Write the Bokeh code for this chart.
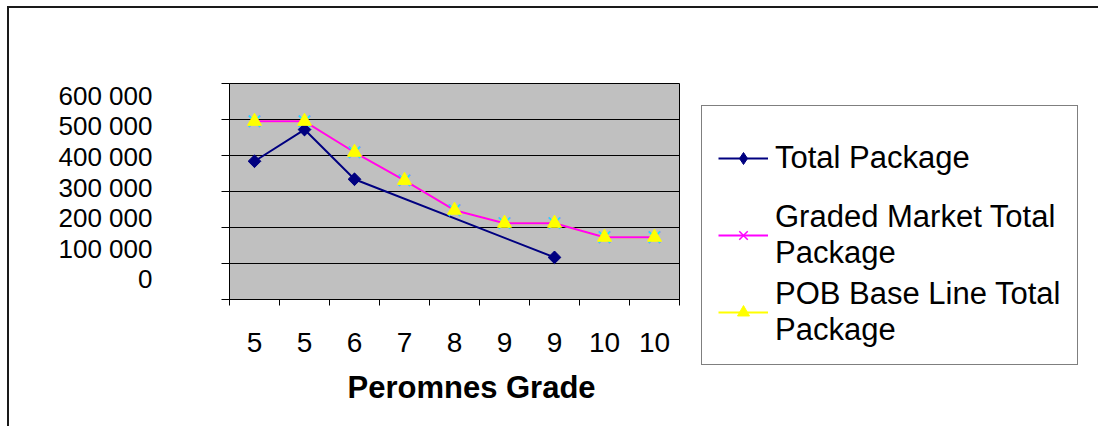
import math
from bokeh.plotting import figure
from bokeh.models import (Range1d, LinearAxis, FixedTicker, Legend, LegendItem, Title)
from bokeh.embed import file_html
from bokeh.resources import INLINE

# ---- data ----
grades = ["5", "5", "6", "7", "8", "9", "9", "10", "10"]
total_package = [384000, 472000, 334000, None, None, None, 117000, None, None]
graded_market = [495000, 495000, 409000, 331000, 248000, 212000, 212000, 173000, 173000]
pob_base_line = [495000, 495000, 409000, 331000, 248000, 212000, 212000, 173000, 173000]
y_tick_values = [0, 100000, 200000, 300000, 400000, 500000, 600000]
y_tick_labels = ["0", "100 000", "200 000", "300 000", "400 000", "500 000", "600 000"]
series_names = ["Total Package", "Graded Market Total\nPackage", "POB Base Line Total\nPackage"]
x_title = "Peromnes Grade"

FONT = "Liberation Sans"
NAVY = "#000080"
MAGENTA = "#FF00FF"
YELLOW = "#FFFF00"
CYAN = "#00FFFF"

x_pos = [i + 0.5 for i in range(len(grades))]
tp_x = [x for x, v in zip(x_pos, total_package) if v is not None]
tp_y = [v for v in total_package if v is not None]

p = figure(frame_width=450, frame_height=216,
           x_range=Range1d(0, len(grades)), y_range=Range1d(0, 600000),
           output_backend="svg", toolbar_location=None,
           min_border_left=220, min_border_right=0,
           min_border_top=75, min_border_bottom=127,
           background_fill_color="#C0C0C0", border_fill_color="white",
           outline_line_color="black", outline_line_width=1)
p.styles = {"border-top": "2px solid #1a1a1a", "border-left": "2px solid #1a1a1a",
            "margin-left": "7px", "margin-top": "6px"}

# grid
p.xgrid.visible = False
p.ygrid.ticker = FixedTicker(ticks=y_tick_values, minor_ticks=[])
p.ygrid.grid_line_color = "black"
p.ygrid.grid_line_width = 1

# y axis with tick marks only
ya = p.yaxis[0]
ya.ticker = FixedTicker(ticks=y_tick_values, minor_ticks=[])
ya.major_label_overrides = {v: "" for v in y_tick_values}
ya.major_label_standoff = 0
ya.major_tick_out = 8
ya.major_tick_in = 0
ya.major_tick_line_color = "black"
ya.axis_line_color = "black"
ya.minor_tick_line_color = None

# y axis carrying the labels (offset like the source rendering)
p.extra_y_ranges = {"lbl": Range1d(-65700, 640500)}
la = LinearAxis(y_range_name="lbl",
                ticker=FixedTicker(ticks=y_tick_values, minor_ticks=[]),
                major_label_overrides={v: t for v, t in zip(y_tick_values, y_tick_labels)},
                major_tick_out=0, major_tick_in=0, minor_tick_out=0, minor_tick_in=0,
                major_tick_line_color=None, minor_tick_line_color=None,
                axis_line_color=None, major_label_standoff=69,
                major_label_text_font=FONT, major_label_text_font_size="26px",
                major_label_text_color="black")
p.add_layout(la, "left")

# x axis: ticks at category boundaries, labels at centers
xa = p.xaxis[0]
xa.ticker = FixedTicker(ticks=x_pos, minor_ticks=list(range(len(grades) + 1)))
xa.major_label_overrides = {x: g for x, g in zip(x_pos, grades)}
xa.major_tick_out = 0
xa.major_tick_in = 0
xa.major_tick_line_color = None
xa.minor_tick_out = 6
xa.minor_tick_in = 0
xa.minor_tick_line_color = "black"
xa.axis_line_color = "black"
xa.major_label_text_font = FONT
xa.major_label_text_font_size = "28px"
xa.major_label_text_color = "black"
xa.major_label_standoff = 27

title = Title(text=x_title, align="left", offset=118, text_font=FONT,
              text_font_size="31px", text_font_style="bold", text_color="black",
              standoff=26)
p.add_layout(title, "below")

# series
r_tp_line = p.line(tp_x, tp_y, line_color=NAVY, line_width=2)
r_tp_leg = p.scatter(tp_x, tp_y, marker="diamond", size=12, fill_color=NAVY, line_color=NAVY)
r_tp_mark = p.scatter(tp_x, tp_y, marker="square", angle=math.pi / 4, size=9,
                      fill_color=NAVY, line_color=NAVY)
r_pob_line = p.line(x_pos, pob_base_line, line_color=YELLOW, line_width=2)
r_gm_line = p.line(x_pos, graded_market, line_color=MAGENTA, line_width=2)
r_gm_leg = p.scatter(x_pos, graded_market, marker="x", size=16,
                     line_color=MAGENTA, line_width=1.5)
r_gm_mark = p.scatter(x_pos, graded_market, marker="x", size=16,
                      line_color=CYAN, line_width=1.5)
r_pob_mark = p.scatter(x_pos, pob_base_line, marker="triangle", size=14,
                       fill_color=YELLOW, line_color=YELLOW)

legend = Legend(items=[
    LegendItem(label=series_names[0], renderers=[r_tp_line, r_tp_leg]),
    LegendItem(label=series_names[1], renderers=[r_gm_line, r_gm_leg]),
    LegendItem(label=series_names[2], renderers=[r_pob_line, r_pob_mark]),
], location="top_left")
legend.label_text_font = FONT
legend.label_text_font_size = "31px"
legend.label_text_color = "black"
legend.label_height = 72
legend.glyph_width = 50
legend.glyph_height = 30
legend.label_standoff = 7
legend.padding = 16
legend.spacing = 5
legend.margin = 22
legend.border_line_color = "black"
legend.border_line_width = 1
legend.background_fill_color = "white"
legend.background_fill_alpha = 1
p.add_layout(legend, "right")

open("out.html", "w").write(file_html(p, INLINE))
